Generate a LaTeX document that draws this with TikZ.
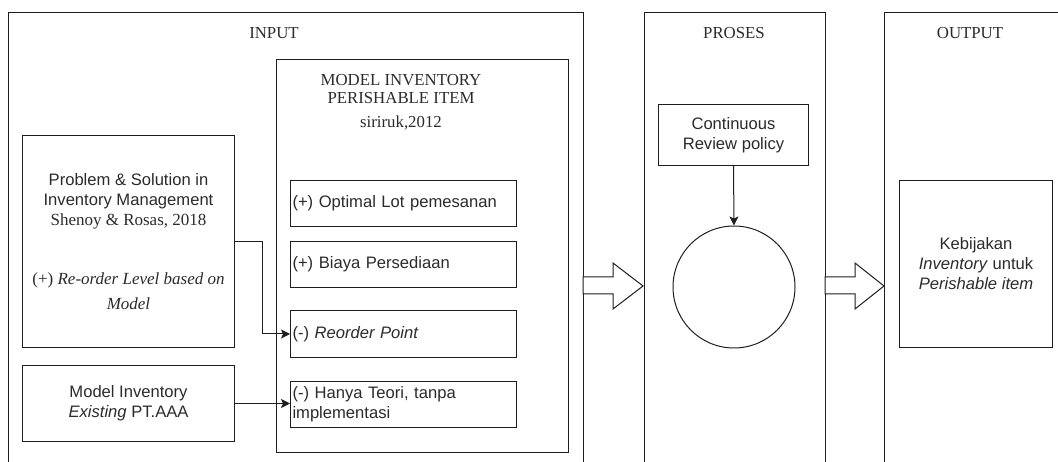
\documentclass[tikz,border=0pt]{standalone}
\usepackage{fontspec}
\setmainfont{Liberation Serif}
\setsansfont{Liberation Sans}
\usetikzlibrary{arrows.meta}
\definecolor{linec}{HTML}{1E1E1E}
\definecolor{textc}{HTML}{2B2B2B}
\newcommand{\serifsz}{\rmfamily\fontsize{17}{20}\selectfont}
\begin{document}
\begin{tikzpicture}[x=1pt,y=-1pt,
  frame/.style={draw=linec, line width=1pt},
  box/.style={draw=linec, line width=1pt, anchor=north west, inner sep=0pt,
    align=center, text=textc, font=\sffamily\fontsize{16.6}{20}\selectfont},
  item/.style={box, minimum width=226pt, minimum height=46pt, text width=222pt,
    inner xsep=2pt, align=left},
  ttl/.style={text=textc, font=\rmfamily\fontsize{16.8}{18}\selectfont, align=center, inner sep=0pt},
  conn/.style={draw=linec, line width=1pt, -{Stealth[length=9pt,width=9pt,inset=2pt]}},
  blockarrow/.style={draw=linec, line width=1pt, fill=white, line join=miter}
]
\useasboundingbox (0,0) rectangle (1058,462);
\clip (0,0) rectangle (1058,462);
\fill[white] (0,0) rectangle (1058,462);

% containers
\draw[frame] (8,490) coordinate (inBL) -- (8,13) -- (583,13) coordinate (inTR) -- (583,490);
\draw[frame] (644,490) -- (644,13) coordinate (prTL) -- (825,13) coordinate (prTR) -- (825,490);
\draw[frame] (884,490) -- (884,13) coordinate (ouTL) -- (1080,13);

\node[ttl] (tin) at (274,33) {INPUT};
\node[ttl] (tpr) at (734,33) {PROSES};
\node[ttl] (tou) at (970,33) {OUTPUT};

% perishable model container
\node[box, minimum width=292pt, minimum height=393pt] (mip) at (276,59) {};
\node[ttl] (mipt) at (401,89) {MODEL INVENTORY\\PERISHABLE ITEM};
\node[ttl] (mipa) at (401,123) {siriruk,2012};

\node[item] (opt) at (290,180) {(+) Optimal Lot pemesanan};
\node[item] (biaya) at (290,241) {(+) Biaya Persediaan};
\node[item, minimum height=47pt] (rop) at (290,310) {(-) \textit{Reorder Point}};
\node[item] (hanya) at (290,381) {(-) Hanya Teori, tanpa\\implementasi};

% left inputs
\node[box, minimum width=212pt, minimum height=212pt] (prob) at (22,135)
  {Problem \& Solution in\\Inventory Management\\\serifsz Shenoy \& Rosas, 2018\\[39pt]
   \serifsz (+) \textit{Re-order Level based on}\\[5pt]\serifsz\textit{Model}};
\node[box, minimum width=212pt, minimum height=76pt] (exist) at (22,365)
  {Model Inventory\\\textit{Existing} PT.AAA};

\draw[conn] (prob.east) -- ++(27,0) |- (rop.west);
\draw[conn] (exist.east) -- (exist.east -| hanya.west);

% process
\node[box, minimum width=150pt, minimum height=61pt] (crp) at (658,104) {Continuous\\Review policy};
\node[draw=linec, line width=1pt, circle, minimum size=122pt, inner sep=0pt] (circ) at (734,287) {};
\draw[conn] (crp.south) -- (circ.north);

% output
\node[box, minimum width=153pt, minimum height=167pt] (kb) at (899,180)
  {Kebijakan\\\textit{Inventory} untuk\\\textit{Perishable item}};

% block arrows
\draw[blockarrow] (583,277) -- (613,277) -- (613,263) -- (643,286) -- (613,309) -- (613,294) -- (583,294) -- cycle;
\draw[blockarrow] (825,277) -- (855,277) -- (855,263) -- (884,286) -- (855,309) -- (855,294) -- (825,294) -- cycle;
\end{tikzpicture}
\end{document}
